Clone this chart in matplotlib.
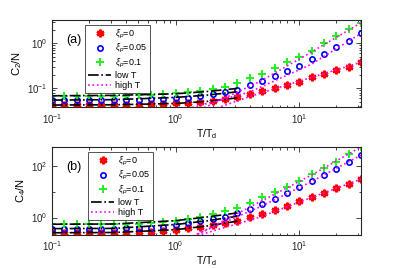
import matplotlib
matplotlib.use("Agg")
import matplotlib.pyplot as plt
from matplotlib.ticker import LogLocator, NullFormatter, FixedLocator
import numpy as np

plt.rcParams['font.family'] = ['Liberation Sans', 'DejaVu Sans']
plt.rcParams['mathtext.fontset'] = 'custom'
plt.rcParams['mathtext.rm'] = 'Liberation Sans'
plt.rcParams['mathtext.it'] = 'Liberation Sans:italic'
plt.rcParams['mathtext.bf'] = 'Liberation Sans:bold'

# temperature grid T/T_d
T = [0.1, 0.126, 0.158, 0.2, 0.251, 0.316, 0.398, 0.501, 0.631, 0.794,
     1.0, 1.26, 1.58, 2.0, 2.51, 3.16, 3.98, 5.01, 6.31, 7.94,
     10.0, 12.6, 15.8, 20.0, 25.1, 31.6]

# panel (a): C2/N
c2_xi0 = [0.0427, 0.0427, 0.0427, 0.0427, 0.0427, 0.0427, 0.0432, 0.0437, 0.0442, 0.0452,
          0.0465, 0.0479, 0.0495, 0.0530, 0.0570, 0.0650, 0.0759, 0.0871, 0.1016, 0.1183,
          0.1403, 0.1754, 0.208, 0.255, 0.302, 0.380]
c2_xi005 = [0.0550, 0.0550, 0.0550, 0.0550, 0.0550, 0.0550, 0.0556, 0.0562, 0.0569, 0.0582,
            0.0600, 0.0618, 0.0675, 0.0736, 0.0815, 0.0944, 0.1175, 0.148, 0.1875, 0.242,
            0.318, 0.441, 0.578, 0.815, 1.143, 1.667]
c2_xi01 = [0.0686, 0.0686, 0.0686, 0.0686, 0.0686, 0.0686, 0.0692, 0.0705, 0.0721, 0.0745,
           0.0774, 0.0815, 0.0885, 0.0964, 0.1086, 0.1291, 0.1667, 0.2128, 0.278, 0.378,
           0.505, 0.685, 1.0, 1.452, 2.046, 2.871]

# panel (b): C4/N
c4_xi0 = [0.257, 0.257, 0.257, 0.257, 0.257, 0.257, 0.260, 0.266, 0.275, 0.295,
          0.331, 0.380, 0.427, 0.501, 0.631, 0.767, 1.023, 1.426, 2.032, 2.897,
          4.236, 6.04, 8.91, 13.4, 20.3, 30.9]
c4_xi005 = [0.372, 0.372, 0.372, 0.372, 0.372, 0.372, 0.380, 0.389, 0.407, 0.437,
            0.501, 0.589, 0.724, 0.891, 1.096, 1.514, 2.239, 3.45, 5.24, 8.91,
            15.1, 25.1, 44.7, 74.1, 141.0, 263.0]
c4_xi01 = [0.550, 0.550, 0.550, 0.550, 0.550, 0.550, 0.562, 0.575, 0.603, 0.661,
           0.759, 0.891, 1.072, 1.380, 1.738, 2.344, 3.715, 6.25, 9.73, 16.0,
           27.2, 47.9, 81.3, 141.0, 288.0, 550.0]

# low-T approximations
T_low = [0.1, 0.316, 1.0, 1.78, 3.16]
c2_low = [[0.0427, 0.0432, 0.0462, 0.0513, 0.0617],
          [0.0550, 0.0562, 0.0631, 0.0708, 0.0841],
          [0.0686, 0.0700, 0.0759, 0.0851, 0.100]]
c4_low = [[0.257, 0.263, 0.339, 0.468, 0.724],
          [0.372, 0.380, 0.537, 0.741, 1.122],
          [0.550, 0.562, 0.759, 1.047, 1.514]]

# high-T approximations
c2_high_T = [[2.0, 3.98, 10.0, 31.6],
             [1.26, 3.98, 12.6, 31.6],
             [1.58, 4.62, 11.4, 31.6]]
c2_high = [[0.0339, 0.0661, 0.1445, 0.380],
           [0.0355, 0.0832, 0.347, 1.667],
           [0.0339, 0.135, 0.550, 2.871]]
c4_high_T = [[1.5, 4.9, 10.0, 31.6],
             [1.48, 4.9, 12.6, 31.6],
             [1.41, 4.9, 12.6, 31.6]]
c4_high = [[0.20, 1.07, 3.98, 30.9],
           [0.224, 2.69, 25.1, 263.0],
           [0.19, 4.27, 44.7, 550.0]]

labels = [r'$\xi_p$=0', r'$\xi_p$=0.05', r'$\xi_p$=0.1']
red, blue, green, mag = '#ff0000', '#0000ff', '#22ee22', '#ff00ff'

fig = plt.figure(figsize=(4.0, 2.68), dpi=100)
axA = fig.add_axes([0.13, 0.5996, 0.7725, 0.3254])
axB = fig.add_axes([0.13, 0.125, 0.7725, 0.3276])

def draw(ax, series, low, highT, high, ylim, ylabel, tag, yticks, leg_anchor):
    s0, s1, s2 = series
    h0, = ax.plot(T, s0, ls='none', marker=(6, 2, 0), ms=5.5, mew=1.8, color=red)
    h1, = ax.plot(T, s1, ls='none', marker='o', ms=3.8, mew=1.2, color=blue, mfc='none')
    h2, = ax.plot(T, s2, ls='none', marker='+', ms=6, mew=1.4, color=green)
    hl = None
    for ly in low:
        hl, = ax.plot(T_low, ly, ls='-.', color='black', lw=1.2)
    hh = None
    for tx, hy in zip(highT, high):
        hh, = ax.plot(tx, hy, ls=':', color=mag, lw=1.2)
    ax.set_xscale('log')
    ax.set_yscale('log')
    ax.set_xlim(0.1, 31.6)
    ax.set_ylim(*ylim)
    ax.xaxis.set_major_locator(FixedLocator([0.1, 1, 10]))
    ax.xaxis.set_minor_locator(LogLocator(base=10, subs=np.arange(2, 10)))
    ax.xaxis.set_minor_formatter(NullFormatter())
    ax.yaxis.set_major_locator(FixedLocator(yticks))
    if tag == '(b)':
        ax.yaxis.set_minor_locator(FixedLocator([10.0]))
    else:
        ax.yaxis.set_minor_locator(LogLocator(base=10, subs=np.arange(2, 10)))
    ax.yaxis.set_minor_formatter(NullFormatter())
    ax.tick_params(which='both', direction='in', top=True, right=True,
                   labelsize=7, colors='#262626', width=0.6)
    ax.tick_params(which='major', length=3.5)
    ax.tick_params(which='minor', length=1.8)
    for sp in ax.spines.values():
        sp.set_linewidth(0.8)
        sp.set_color('#262626')
    ax.set_ylabel(ylabel, fontsize=8, labelpad=2)
    ax.set_xlabel(r'T/T$_\mathrm{d}$', fontsize=7.5, labelpad=1)
    ax.text(0.07, 0.77, tag, transform=ax.transAxes, fontsize=9,
            ha='center', va='center')
    leg = ax.legend([h0, h1, h2, hl, hh], labels + ['low T', 'high T'],
                    loc='upper left', bbox_to_anchor=leg_anchor, borderaxespad=0,
                    fontsize=6.5, frameon=True, fancybox=False, edgecolor='#262626',
                    handlelength=2.6, handletextpad=0.4, labelspacing=0.15,
                    borderpad=0.3, numpoints=1)
    leg.get_frame().set_linewidth(0.7)

draw(axA, (c2_xi0, c2_xi005, c2_xi01), c2_low, c2_high_T, c2_high,
     (0.038, 3.3), r'C$_2$/N', '(a)', [0.1, 1.0], (0.107, 0.943))
draw(axB, (c4_xi0, c4_xi005, c4_xi01), c4_low, c4_high_T, c4_high,
     (0.22, 560), r'C$_4$/N', '(b)', [1.0, 100.0], (0.117, 0.94))

fig.savefig('out.png', dpi=100)
